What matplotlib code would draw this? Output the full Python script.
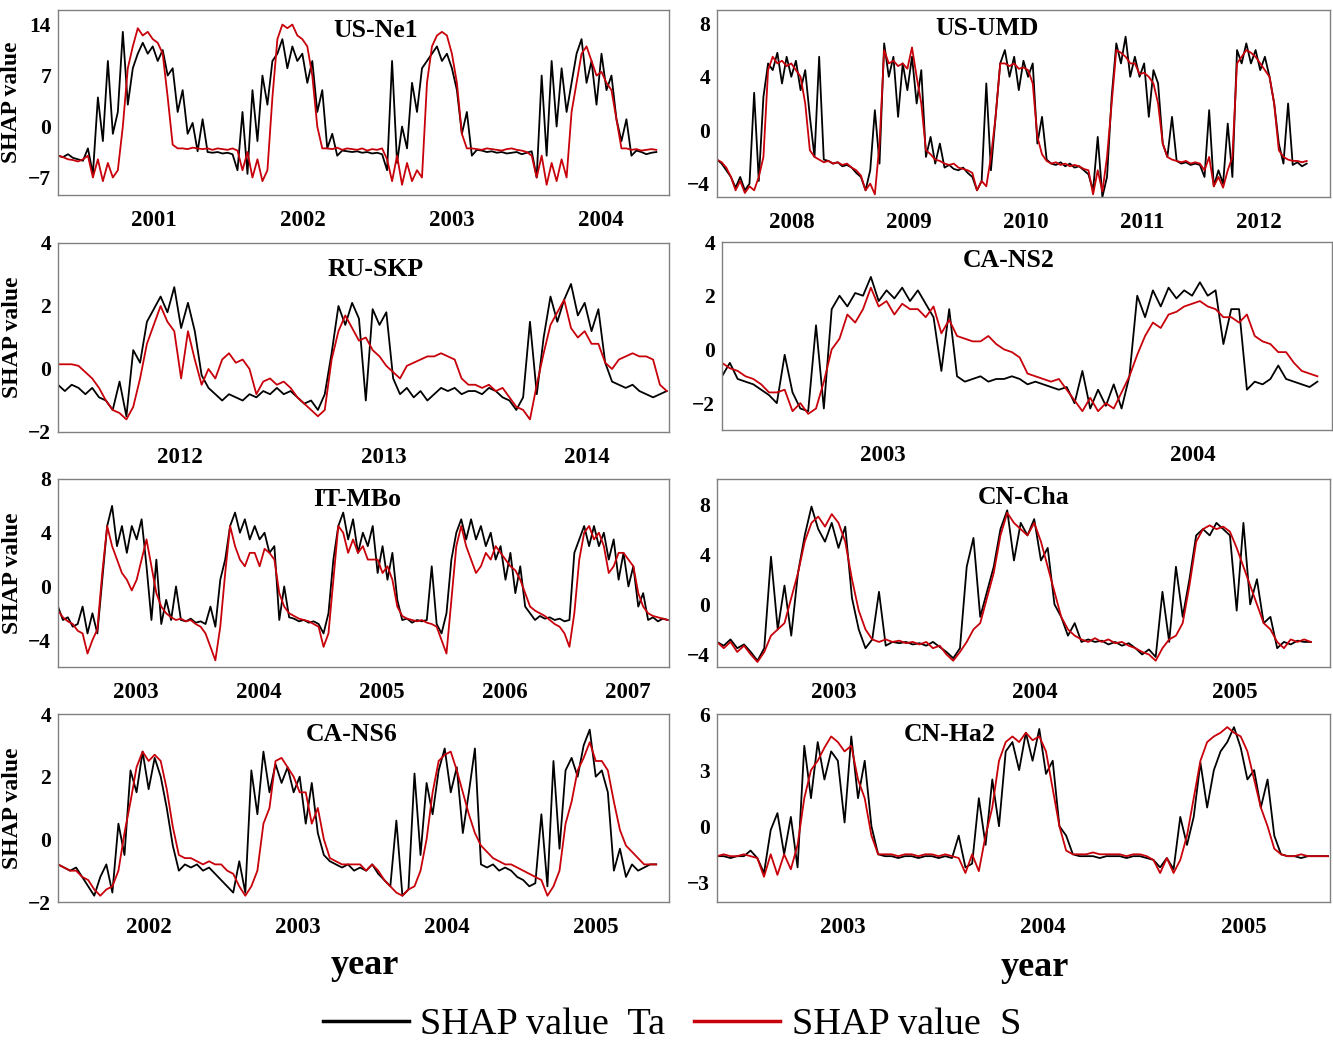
import numpy as np
import matplotlib
matplotlib.use("Agg")
import matplotlib.pyplot as plt
from matplotlib.lines import Line2D

plt.rcParams["font.family"] = "Liberation Serif"

# ---- daily SHAP values (resampled, start -> end of record) ----
# US-Ne1
ne1_ta = [-4.0, -4.2, -3.8, -4.3, -4.5, -4.7,
          -3.0, -6.5, 4.0, -2.0, 9.0, -1.0, 2.0,
          13.0, 3.0, 8.0, 10.0, 11.5, 10.0, 11.0,
          9.0, 10.5, 7.0, 8.0, 2.0, 5.0, -1.0,
          0.5, -3.4, 1.0, -3.5, -3.6, -3.5, -3.7, -3.6, -3.8,
          -6.0, 2.0, -6.5, 5.0, -2.0, 7.0, 3.0, 9.0,
          10.0, 12.0, 8.0, 11.0, 9.0, 10.0, 6.0, 9.0,
          2.0, 5.0, -3.0, -1.0, -4.0,
          -3.3, -3.4, -3.5, -3.4, -3.6, -3.5, -3.7, -3.6, -3.8,
          -6.0, 9.0, -5.0, 0.0, -3.0, 6.0, 2.0, 8.0,
          9.0, 10.0, 11.0, 9.0, 10.0, 8.0,
          5.0, -1.0, 2.0, -4.0, -3.2,
          -3.3, -3.5, -3.4, -3.6, -3.5, -3.7, -3.6, -3.5, -3.8, -3.6, -3.4,
          -7.0, 7.0, -4.0, 9.0, 0.0, 8.0, 2.0, 6.0, 10.0,
          12.0, 6.0, 9.0, 3.0, 10.0, 5.0, 7.0, 1.0,
          -2.0, 1.0, -4.0, -3.3, -3.5, -3.8, -3.6, -3.5]
ne1_s = [-4.0, -4.2, -4.5, -4.6, -4.8, -4.5,
         -4.0, -7.0, -4.5, -7.5, -5.0, -7.0, -6.0,
         0.0, 8.0, 11.0, 13.5, 12.5, 13.0, 12.0,
         11.5, 10.0, 4.0, -2.5, -3.0, -3.0, -3.1,
         -2.9, -3.0, -3.1, -3.0, -3.2, -3.0, -3.1, -3.2, -3.0,
         -3.3, -6.0, -3.5, -7.0, -4.5, -7.5, -6.0, 4.0,
         12.0, 14.0, 13.5, 14.0, 12.5, 12.0, 11.0, 7.0,
         0.0, -3.0, -3.0, -3.1, -2.9,
         -3.2, -3.0, -3.1, -3.2, -3.0, -3.3, -3.1, -3.2, -3.0,
         -4.5, -7.5, -4.0, -8.0, -5.0, -7.5, -6.0, -7.0,
         6.0, 11.0, 12.5, 13.0, 12.5, 10.0,
         6.0, -1.0, -3.0, -3.0, -3.1,
         -3.2, -3.0, -3.1, -3.2, -3.3, -3.1, -3.0, -3.2, -3.3, -3.5, -4.0,
         -7.0, -4.0, -8.0, -5.0, -7.5, -4.5, -7.0, 2.0, 6.0,
         10.0, 11.0, 9.0, 7.0, 7.5, 6.0, 5.0, 1.0,
         -3.0, -3.0, -3.2, -3.1, -3.3, -3.2, -3.1, -3.2]

# US-UMD
umd_ta = [-2.2, -2.5, -3.0, -3.5,
          -4.3, -3.5, -4.5, -4.0, 2.8, -3.8, 2.5,
          5.0, 4.5, 5.8, 3.5, 5.5, 4.0, 5.2, 3.0, 4.5, 1.0, -2.0, 5.5, -2.2,
          -2.3, -2.5, -2.4, -2.7, -2.6, -2.8, -3.2, -3.5,
          -4.5, -3.0, 1.5, -2.5,
          6.5, 4.0, 5.5, 1.0, 5.0, 3.0, 5.5, 2.0, 4.5,
          -2.0, -0.5, -2.5, -1.0, -2.8,
          -2.6, -2.9, -3.0, -2.8, -3.2, -3.5, -4.5, -3.8,
          3.5, -3.0, 1.0,
          5.0, 6.0, 4.0, 5.5, 3.0, 5.2, 4.0, 5.0,
          -1.0, 1.0, -2.2,
          -2.5, -2.6, -2.4, -2.7, -2.5, -2.8, -2.7, -3.0, -3.3,
          -4.5, -0.5, -5.0, -3.5, 2.5,
          6.5, 5.0, 7.0, 4.0, 5.5, 4.0, 5.0, 1.0, 4.5, 3.5,
          -1.0, -2.0, 1.0, -2.3,
          -2.5, -2.4, -2.6, -2.5, -2.6,
          -3.5, 1.5, -4.2, -3.0, -4.0, 0.5, -3.5,
          6.0, 5.0, 6.5, 5.0, 6.0, 4.5, 5.5, 4.0, 2.0,
          -1.0, -2.5, 2.0, -2.6, -2.4, -2.7, -2.5]
umd_s = [-2.2, -2.4, -2.8, -3.5,
         -4.5, -3.8, -4.7, -4.2, -4.5, -3.5, -2.0,
         4.5, 5.5, 5.0, 5.2, 4.8, 5.0, 4.5, 4.0, 2.0, -1.5, -2.0,
         -2.2, -2.4, -2.3, -2.5, -2.4, -2.6, -2.5, -2.8, -3.0, -3.4,
         -4.5, -4.0, -4.8, -1.0,
         6.0, 5.0, 5.2, 4.8, 5.0, 4.6, 6.2, 4.0, 2.0,
         -1.5, -1.8, -2.2,
         -2.3, -2.5, -2.6, -2.5, -2.8, -2.9, -3.0, -3.2, -4.5, -3.8,
         -4.2, -2.0, 1.0,
         5.0, 5.0, 4.8, 5.0, 4.6, 4.7, 4.5, 3.5,
         -0.5, -1.8, -2.3,
         -2.5, -2.4, -2.6, -2.5, -2.7, -2.6, -2.7, -2.9, -3.0,
         -4.8, -3.0, -4.6, -2.0, 2.0,
         6.0, 5.8, 5.5, 5.0, 5.0, 4.2, 4.3, 4.0, 3.5, 2.0,
         -1.0, -2.0, -2.2, -2.3,
         -2.4, -2.3, -2.5, -2.4, -2.5,
         -3.0, -2.0, -4.2, -3.5, -4.3, -3.0, -2.0,
         5.0, 5.5, 6.0, 5.8, 5.5, 5.0, 4.5, 4.0, 2.0,
         -1.5, -2.0, -2.2, -2.3, -2.3, -2.4, -2.3]

# RU-SKP
skp_ta = [-0.5, -0.7, -0.5, -0.6, -0.8, -0.6, -0.9, -1.0,
          -1.3, -0.4, -1.5,
          0.6, 0.2, 1.5, 1.9, 2.3, 1.8, 2.6, 1.3, 2.1, 1.2,
          -0.2, -0.6, -0.8, -1.0, -0.8, -0.9, -1.0, -0.8, -0.9, -0.7,
          -0.8, -0.6, -0.8, -0.7, -0.9, -1.1, -1.0, -1.3, -0.8,
          0.5, 2.0, 1.4, 2.1, 1.6, -1.0, 1.9, 1.4, 1.8,
          -0.3, -0.8, -0.6, -0.9, -0.7, -1.0, -0.8, -0.6, -0.7, -0.6,
          -0.8, -0.7, -0.7, -0.8, -0.6, -0.7, -0.9, -1.0, -1.3, -0.9, 1.5,
          -0.8, 1.0, 2.3, 1.5, 2.2, 2.7, 1.7, 2.1, 1.2,
          1.9, 0.2, -0.4, -0.5, -0.6, -0.5, -0.7, -0.8, -0.9, -0.8, -0.7]
skp_s = [0.15, 0.15, 0.15, 0.1,
         -0.1, -0.3, -0.6, -1.0,
         -1.3, -1.4, -1.6, -1.2,
         -0.3, 0.8, 1.4, 2.0, 1.5, 1.2, -0.3, 1.2, 0.3, -0.5,
         0.0, -0.3, 0.3, 0.5, 0.2, 0.3, 0.0, -0.8,
         -0.4, -0.3, -0.5, -0.4, -0.6, -0.9, -1.1, -1.3, -1.5, -1.3,
         0.3, 1.2, 1.7, 1.3, 0.9, 1.0, 0.6, 0.4, 0.1,
         -0.1, -0.3, 0.1, 0.2, 0.3, 0.4, 0.4, 0.5, 0.4, 0.3, -0.3,
         -0.5, -0.5, -0.6, -0.5, -0.7, -0.6, -0.9, -1.2, -1.3, -1.6,
         -0.5, 0.5, 1.4, 1.8, 2.2, 1.3, 1.0, 1.2, 0.8, 0.8,
         0.2, 0.0, 0.3, 0.4, 0.5, 0.4, 0.4, 0.3, -0.5, -0.7]

# CA-NS2
ns2_ta = [-1.0, -0.5, -1.1, -1.2, -1.3, -1.5, -1.7, -2.0, -0.2, -1.6,
          -2.2, -2.3, 0.9, -2.2, 1.5, 2.0, 1.6, 2.1, 2.0, 2.7,
          1.8, 2.2, 1.9, 2.3, 1.8, 2.2, 1.7, 1.2, -0.8, 1.5,
          -1.0, -1.2, -1.1, -1.0, -1.2, -1.1, -1.1, -1.0, -1.1, -1.3,
          -1.2, -1.3, -1.4, -1.5, -1.4, -2.0, -0.8, -2.2, -1.5, -2.1,
          -1.3, -2.2, -1.0, 2.0, 1.2, 2.2, 1.6, 2.3, 1.9, 2.2,
          2.0, 2.5, 2.0, 2.2, 0.2, 1.5, 1.5, -1.5, -1.2, -1.3,
          -1.1, -0.6, -1.1, -1.2, -1.3, -1.4, -1.2]
ns2_s = [-0.5, -0.7, -0.8, -1.0, -1.1, -1.3, -1.6, -1.6, -1.5, -2.3,
         -2.0, -2.4, -2.2, -1.2, 0.0, 0.4, 1.3, 1.0, 1.5, 2.3,
         1.6, 1.8, 1.3, 1.7, 1.5, 1.5, 1.2, 1.6, 0.6, 1.1,
         0.5, 0.4, 0.3, 0.3, 0.5, 0.2, 0.0, -0.1, -0.3, -0.9,
         -1.0, -1.1, -1.2, -1.1, -1.5, -1.9, -2.3, -1.8, -2.3, -2.0,
         -2.2, -1.6, -1.0, -0.2, 0.5, 1.0, 0.8, 1.3, 1.4, 1.6,
         1.7, 1.8, 1.6, 1.5, 1.2, 1.2, 1.0, 1.3, 0.5, 0.3,
         0.2, -0.1, -0.1, -0.5, -0.8, -0.9, -1.0]

# IT-MBo
mbo_ta = [-1.5, -2.5, -2.3, -3.0, -2.8,
          -1.5, -3.5, -2.0, -3.5, 0.5,
          4.5, 6.0, 3.0, 4.5, 2.5,
          4.5, 3.5, 5.0, 1.5, -2.5,
          2.0, -2.8, -1.0, -2.5, 0.0,
          -2.5, -2.6, -2.4, -2.7, -2.6,
          -2.8, -1.5, -3.0, 0.5, 2.0,
          4.5, 5.5, 4.0, 5.0, 3.5,
          4.5, 3.5, 4.0, 2.5, 3.0,
          -2.5, 0.0, -2.3, -2.4, -2.6,
          -2.5, -2.7, -2.6, -2.8, -3.5,
          -2.0, 2.0, 4.5, 5.5, 3.5,
          5.0, 2.5, 4.0, 3.0, 4.5,
          1.0, 3.0, 0.5, 2.5, -1.0,
          -2.5, -2.4, -2.7, -2.5, -2.6,
          -2.5, 1.5, -2.8, -3.5, -2.0,
          2.0, 4.0, 5.0, 3.5, 5.0,
          3.5, 4.5, 3.0, 4.0, 2.0,
          3.0, 0.5, 2.5, -0.5, 1.5,
          -1.5, -2.0, -2.5, -2.2, -2.4,
          -2.3, -2.5, -2.4, -2.6, -2.5,
          2.5, 3.5, 4.5, 3.0, 4.5,
          3.0, 4.0, 2.0, 3.5, 0.5,
          2.5, 0.0, 1.5, -1.5, -0.5,
          -2.5, -2.3, -2.6, -2.4, -2.5]
mbo_s = [-1.8, -2.3, -2.6, -2.8, -3.3,
         -3.5, -5.0, -4.0, -3.2, 1.0,
         4.5, 3.0, 2.0, 1.0, 0.5,
         -0.3, 0.5, 2.0, 3.5, 1.5,
         -0.5, -1.5, -2.0, -2.3, -2.5,
         -2.4, -2.6, -2.5, -2.8, -3.0,
         -3.5, -4.5, -5.5, -3.0, 1.0,
         4.5, 3.0, 2.0, 1.5, 2.5,
         2.5, 1.5, 2.8, 2.5, 2.0,
         -0.5, -1.5, -2.0, -2.2, -2.4,
         -2.5, -2.6, -2.8, -3.0, -4.5,
         -3.5, 0.5, 4.5, 4.0, 2.5,
         3.5, 2.5, 3.0, 2.0, 2.0,
         2.0, 1.0, 1.5, 0.5, -1.5,
         -2.2, -2.4, -2.5, -2.6, -2.5,
         -2.7, -2.8, -3.0, -4.0, -5.0,
         -1.0, 3.0, 4.5, 3.0, 2.0,
         1.0, 1.5, 2.5, 2.0, 3.0,
         2.5, 2.0, 1.5, 1.2, 0.5,
         -0.5, -1.5, -1.8, -2.0, -2.2,
         -2.5, -2.8, -3.0, -3.5, -4.5,
         -2.0, 2.0, 4.0, 4.5, 3.5,
         4.0, 3.0, 1.0, 1.5, 2.5,
         2.5, 2.0, 1.5, -0.5, -1.5,
         -2.0, -2.2, -2.3, -2.4, -2.5]

# CN-Cha
cha_ta = [-3.0, -3.3, -2.8, -3.5, -3.2,
          -3.8, -4.5, -3.5, 3.8, -2.0,
          1.5, -2.5, 2.5, 5.5, 7.8,
          6.0, 5.0, 6.5, 4.5, 6.2,
          0.5, -2.0, -3.5, -2.8, 1.0,
          -3.3, -3.0, -3.1, -3.0, -3.2,
          -3.1, -3.3, -3.0, -3.4, -3.8,
          -4.3, -3.5, 3.0, 5.3, -1.0,
          1.0, 3.0, 6.0, 7.5, 3.5,
          6.5, 5.5, 6.8, 3.5, 4.5,
          0.0, -1.0, -2.5, -1.5, -3.0,
          -2.8, -3.0, -2.9, -3.2, -3.0,
          -3.3, -3.1, -3.5, -4.0, -3.6,
          -4.2, 1.0, -3.0, 3.0, -1.0,
          2.0, 5.5, 6.0, 5.5, 6.5,
          6.0, 5.5, -0.5, 6.5, 0.0,
          2.0, -1.5, -1.0, -3.5, -3.0,
          -3.2, -2.9, -3.0, -3.0]
cha_s = [-3.0, -3.5, -3.0, -3.8, -3.3,
         -4.0, -4.6, -3.8, -2.5, -2.0,
         -1.5, 0.5, 2.5, 5.0, 6.5,
         7.0, 6.2, 7.2, 6.5, 5.0,
         2.0, -0.5, -2.0, -2.8, -3.0,
         -2.8, -3.0, -2.9, -3.1, -3.0,
         -3.2, -3.0, -3.5, -3.3, -4.0,
         -4.5, -3.8, -3.0, -2.0, -1.5,
         0.5, 2.5, 5.5, 7.3, 6.5,
         6.0, 5.5, 6.5, 5.0, 3.0,
         1.0, -1.0, -2.0, -2.5, -2.8,
         -3.0, -2.7, -3.0, -2.8, -3.1,
         -3.0, -3.3, -3.5, -3.8, -4.0,
         -4.5, -3.5, -2.8, -2.5, -1.5,
         1.5, 5.0, 6.0, 6.3, 6.0,
         6.2, 5.8, 4.5, 3.0, 1.5,
         0.0, -1.5, -2.0, -3.0, -3.5,
         -2.8, -3.0, -2.8, -3.0]

# CA-NS6
ns6_ta = [-0.8, -0.9, -1.0, -0.9, -1.2,
          -1.5, -1.8, -1.2, -0.8, -1.7,
          0.5, -0.5, 2.2, 1.5, 2.8,
          1.6, 2.6, 2.0, 1.0, -0.2,
          -1.0, -0.8, -0.9, -0.8, -1.0,
          -0.9, -1.1, -1.3, -1.5, -1.7,
          -0.7, -1.7, 2.2, 0.8, 2.8,
          1.5, 2.4, 1.8, 2.3, 1.5,
          2.0, 0.5, 1.8, 0.2, -0.5,
          -0.7, -0.8, -0.9, -0.8, -1.0,
          -0.9, -1.0, -0.8, -1.1, -1.3,
          -1.5, 0.6, -1.8, -1.6, 2.1,
          -0.5, 1.8, 0.8, 2.2, 2.9,
          1.5, 2.3, 0.2, 1.5, 2.9,
          -0.8, -0.9, -0.8, -1.0, -0.9,
          -1.0, -1.2, -1.3, -1.5, -1.4,
          0.8, -1.5, 2.5, -0.3, 2.2,
          2.6, 2.0, 3.0, 3.5, 2.0,
          2.2, 1.5, -1.0, -0.3, -1.2,
          -0.8, -1.0, -0.9, -0.8, -0.8]
ns6_s = [-0.8, -0.9, -1.0, -1.0, -1.2,
         -1.3, -1.6, -1.8, -1.6, -1.5,
         -1.0, 0.2, 1.2, 2.3, 2.8,
         2.5, 2.7, 2.5, 1.6, 0.4,
         -0.5, -0.6, -0.6, -0.7, -0.8,
         -0.7, -0.8, -0.8, -1.0, -1.1,
         -1.5, -1.8, -1.5, -1.0, 0.5,
         1.0, 2.5, 2.6, 2.3, 2.0,
         1.5, 1.5, 0.5, 1.0, 0.0,
         -0.6, -0.7, -0.8, -0.8, -0.8,
         -0.8, -1.0, -0.8, -1.0, -1.3,
         -1.5, -1.7, -1.8, -1.6, -1.5,
         -1.0, 0.0, 1.5, 2.5, 2.7,
         2.8, 2.2, 1.5, 0.8, 0.2,
         -0.2, -0.4, -0.6, -0.7, -0.8,
         -0.8, -0.9, -1.0, -1.1, -1.2,
         -1.3, -1.8, -1.5, -1.0, 0.5,
         1.2, 2.2, 2.6, 3.1, 2.5,
         2.5, 2.2, 1.2, 0.3, -0.2,
         -0.4, -0.6, -0.8, -0.8, -0.8]

# CN-Ha2
ha2_ta = [-1.6, -1.6, -1.7, -1.6, -1.6,
          -1.3, -1.7, -2.5, -0.2, 0.7,
          -1.5, 0.5, -2.2, 4.3, 1.5,
          4.5, 2.5, 4.0, 3.5, 0.2,
          4.8, 1.5, 3.5, 0.0, -1.5,
          -1.6, -1.6, -1.7, -1.6, -1.6,
          -1.7, -1.6, -1.6, -1.7, -1.6,
          -1.7, -0.5, -2.2, -2.0, 1.5,
          -1.0, 2.5, 0.0, 4.0, 4.5,
          3.0, 5.0, 3.5, 5.2, 2.8,
          3.5, 0.0, -0.5, -1.5, -1.6,
          -1.6, -1.6, -1.7, -1.6, -1.6,
          -1.6, -1.7, -1.6, -1.6, -1.7,
          -1.8, -2.2, -1.7, -2.3, 0.5,
          -1.0, 0.5, 3.4, 1.0, 3.0,
          4.0, 4.5, 5.3, 4.2, 2.5,
          3.0, 1.0, 2.5, -0.5, -1.5,
          -1.6, -1.6, -1.7, -1.6, -1.6,
          -1.6, -1.6]
ha2_s = [-1.6, -1.5, -1.6, -1.6, -1.5,
         -1.6, -1.7, -2.7, -1.5, -2.6,
         -1.5, -2.3, -1.0, 1.5, 3.0,
         3.5, 4.2, 4.8, 4.5, 4.0,
         4.3, 2.5, 1.5, -0.5, -1.5,
         -1.5, -1.5, -1.6, -1.5, -1.5,
         -1.6, -1.5, -1.5, -1.6, -1.5,
         -1.6, -1.7, -2.5, -1.5, -2.4,
         -0.5, 1.0, 3.5, 4.5, 4.8,
         4.5, 5.0, 4.6, 4.8, 4.0,
         2.0, 0.0, -1.3, -1.5, -1.5,
         -1.5, -1.4, -1.5, -1.5, -1.5,
         -1.5, -1.6, -1.5, -1.5, -1.6,
         -1.8, -2.5, -1.7, -2.5, -1.8,
         -0.5, 1.5, 3.5, 4.5, 4.8,
         5.0, 5.3, 5.0, 4.8, 4.0,
         2.5, 1.0, 0.0, -1.2, -1.5,
         -1.6, -1.6, -1.5, -1.6, -1.6,
         -1.6, -1.6]

W, H = 1333, 1044
RED = "#c8000a"

# name, Ta, S, record start/end (decimal year), right xlim, years, yticks, ylim,
# axes box in pixels (left, top, right, bottom), title position, show ylabel
panels = [
    ("US-Ne1", ne1_ta, ne1_s, 2000.856, 2004.875, 2004.96, [2001, 2002, 2003, 2004],
     [-7, 0, 7, 14], (-9.4, 16), (58, 10, 669, 195), (0.52, 0.89), True),
    ("US-UMD", umd_ta, umd_s, 2007.855, 2012.91, 2013.11, [2008, 2009, 2010, 2011, 2012],
     [-4, 0, 4, 8], (-5, 9), (717, 10, 1330, 197), (0.44, 0.90), False),
    ("RU-SKP", skp_ta, skp_s, 2011.898, 2014.894, 2014.905, [2012, 2013, 2014],
     [-2, 0, 2, 4], (-2, 4), (58, 243, 669, 432), (0.52, 0.86), True),
    ("CA-NS2", ns2_ta, ns2_s, 2002.982, 2004.902, 2004.949, [2003, 2004],
     [-2, 0, 2, 4], (-3, 4), (722, 242, 1332, 430), (0.47, 0.90), False),
    ("IT-MBo", mbo_ta, mbo_s, 2002.865, 2007.823, 2007.833, [2003, 2004, 2005, 2006, 2007],
     [-4, 0, 4, 8], (-6, 8), (58, 479, 669, 667), (0.49, 0.89), True),
    ("CN-Cha", cha_ta, cha_s, 2002.919, 2005.877, 2005.972, [2003, 2004, 2005],
     [-4, 0, 4, 8], (-5, 10), (717, 479, 1330, 667), (0.50, 0.90), False),
    ("CA-NS6", ns6_ta, ns6_s, 2001.888, 2005.902, 2005.988, [2002, 2003, 2004, 2005],
     [-2, 0, 2, 4], (-2, 4), (58, 714, 669, 902), (0.48, 0.89), True),
    ("CN-Ha2", ha2_ta, ha2_s, 2002.874, 2005.92, 2005.93, [2003, 2004, 2005],
     [-3, 0, 3, 6], (-4.05, 6), (717, 714, 1330, 902), (0.38, 0.89), False),
]

fig = plt.figure(figsize=(W / 100, H / 100), dpi=100)

for (name, ta, s, t0, t1, xmax, years, yticks, ylim, box, tpos, ylab) in panels:
    l, t, r, b = box
    ax = fig.add_axes([l / W, 1 - b / H, (r - l) / W, (b - t) / H])
    ax.plot(np.linspace(t0, t1, len(ta)), ta, color="black", lw=1.3)
    ax.plot(np.linspace(t0, t1, len(s)), s, color=RED, lw=1.3)
    ax.set_xlim(t0, xmax)
    ax.set_ylim(*ylim)
    ax.set_xticks([y + 0.5 for y in years])
    ax.set_xticklabels([str(y) for y in years])
    ax.set_yticks(yticks)
    ax.tick_params(axis="x", length=0, pad=11, labelsize=16.5)
    ax.tick_params(axis="y", length=0, pad=5, labelsize=15.5)
    for lab in ax.get_xticklabels() + ax.get_yticklabels():
        lab.set_fontweight("bold")
    for sp in ax.spines.values():
        sp.set_color("#808080")
        sp.set_linewidth(1.0)
    ax.text(tpos[0], tpos[1], name, transform=ax.transAxes, ha="center", va="center",
            fontsize=18.5, fontweight="bold")
    if ylab:
        ax.set_ylabel("SHAP value", fontsize=17, fontweight="bold", labelpad=4)

fig.text(365 / W, 1 - 966 / H, "year", ha="center", va="center", fontsize=26, fontweight="bold")
fig.text(1035 / W, 1 - 968 / H, "year", ha="center", va="center", fontsize=26, fontweight="bold")

handles = [Line2D([], [], color="black", lw=2.5), Line2D([], [], color=RED, lw=2.5)]
fig.legend(handles, ["SHAP value  Ta", "SHAP value  S"], loc="center",
           bbox_to_anchor=(672 / W, 1 - 1025 / H), ncol=2, frameon=False,
           fontsize=27.5, handlelength=2.25, handletextpad=0.3, columnspacing=0.75)

fig.savefig("out.png", dpi=100)
